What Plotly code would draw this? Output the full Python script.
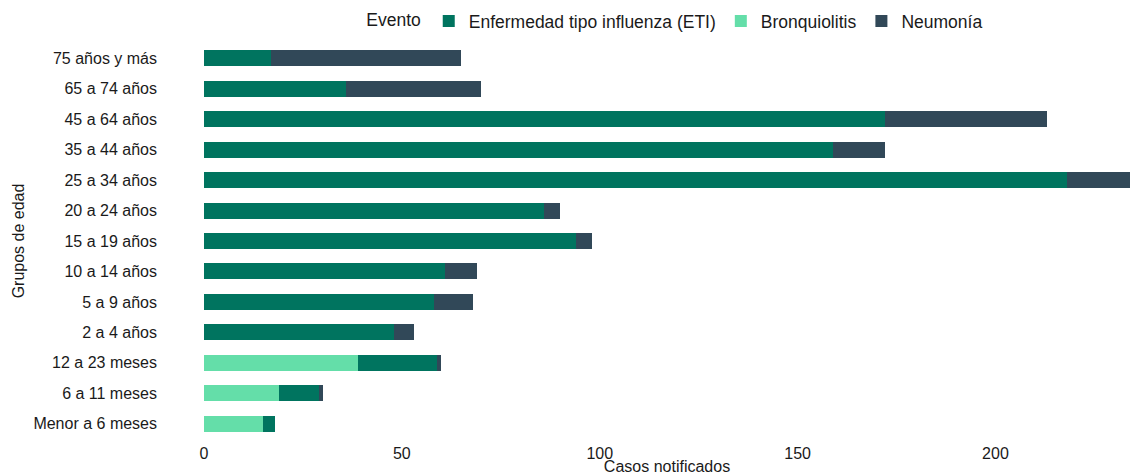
import plotly.graph_objects as go

grupos = ["Menor a 6 meses", "6 a 11 meses", "12 a 23 meses", "2 a 4 años",
          "5 a 9 años", "10 a 14 años", "15 a 19 años", "20 a 24 años",
          "25 a 34 años", "35 a 44 años", "45 a 64 años", "65 a 74 años",
          "75 años y más"]
bronquiolitis = [15, 19, 39, 0, 0, 0, 0, 0, 0, 0, 0, 0, 0]
eti = [3, 10, 20, 48, 58, 61, 94, 86, 218, 159, 172, 36, 17]
neumonia = [0, 1, 1, 5, 10, 8, 4, 4, 16, 13, 41, 34, 48]

FONT = "Liberation Sans, Arial, sans-serif"
TXT = "#1a1a1a"

fig = go.Figure()
# stacking order: bronquiolitis at the base, then ETI, then neumonía
fig.add_trace(go.Bar(y=grupos, x=bronquiolitis, name="Bronquiolitis",
                     orientation="h", marker_color="#64DEA9",
                     marker_line_width=0, legendrank=2))
fig.add_trace(go.Bar(y=grupos, x=eti, name="Enfermedad tipo influenza (ETI)",
                     orientation="h", marker_color="#00745F",
                     marker_line_width=0, legendrank=1))
fig.add_trace(go.Bar(y=grupos, x=neumonia, name="Neumonía",
                     orientation="h", marker_color="#314858",
                     marker_line_width=0, legendrank=3))

fig.update_layout(
    width=1131, height=475,
    barmode="stack", bargap=0.475,
    margin=dict(l=204, r=1, t=43, b=36, autoexpand=False),
    plot_bgcolor="white", paper_bgcolor="white",
    font=dict(family=FONT, size=16, color=TXT),
    legend=dict(orientation="h", x=0.51, xanchor="center", y=1.01, yanchor="bottom",
                title=dict(text="Evento", side="left",
                           font=dict(family=FONT, size=17.5, color=TXT)),
                font=dict(family=FONT, size=17.5, color=TXT),
                itemclick=False, traceorder="normal", tracegroupgap=0),
    xaxis=dict(range=[0, 234], showgrid=False, zeroline=False, showline=False,
               automargin=False,
               tickvals=[0, 50, 100, 150, 200], ticks="",
               ticklabelstandoff=3,
               tickfont=dict(size=16, color=TXT),
               title=dict(text="Casos notificados", standoff=0,
                          font=dict(size=16, color=TXT))),
    yaxis=dict(categoryorder="array", categoryarray=grupos,
               showgrid=False, zeroline=False, showline=False, ticks="",
               automargin=False,
               ticklabelstandoff=46,
               tickfont=dict(size=16, color=TXT),
               title=dict(text="Grupos de edad", standoff=4,
                          font=dict(size=16, color=TXT))),
)

# the page has a default 8px body margin; drop it so the figure fills the window
fig.write_html("out.html", config={"displayModeBar": False},
               post_script="document.body.style.margin='0';")
